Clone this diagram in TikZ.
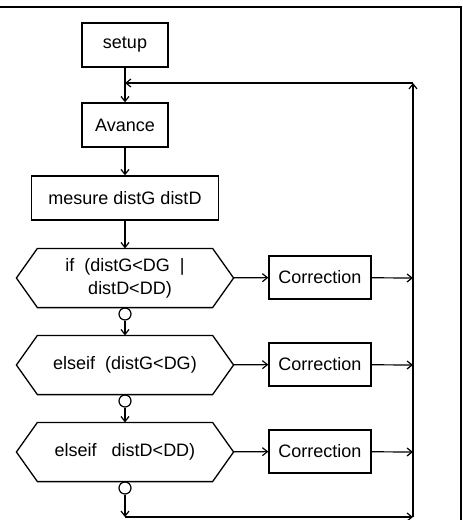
\documentclass[tikz,border=0pt]{standalone}
\usepackage{fontspec}
\setmainfont{Liberation Sans}
\usetikzlibrary{
		calc,
		arrows.meta,
		positioning
	}
\tikzset{
		>={Straight Barb[length=5pt,width=8pt]},
		box/.style={draw, line width=1.3pt, minimum height=44pt, inner sep=0pt, font=\fontsize{18}{23}\selectfont},
		hexbox/.style={minimum width=216pt, minimum height=58pt, inner sep=0pt, align=center, font=\fontsize{18}{23}\selectfont},
		joint/.style={draw, circle, line width=1.2pt, minimum size=12pt, inner sep=0pt}
	}

\begin{document}
\begin{tikzpicture}[x=1pt, y=-1pt, line width=1.2pt]
    \useasboundingbox (0,0) rectangle (463,520);

    % the frame
    \draw (0,7) -- (461,7) -- (461,520);

    % the boxes
    \node[box, minimum width=86pt] (setup) at (125,45) {setup};
    \node[box, minimum width=86pt] (avance) at (125,125) {Avance};
    \node[box, minimum width=187pt] (mesure) at (125,198) {mesure distG distD};

    % the tests (hexagons drawn below)
    \node[hexbox] (if1) at (125,278) {if~~(distG<DG~~|\hspace{15pt}\\\hspace{10pt}distD<DD)};
    \node[hexbox] (if2) at (125,365) {elseif~~(distG<DG)};
    \node[hexbox] (if3) at (125,452) {elseif~~~distD<DD)};

    \node[box, minimum width=102pt, minimum height=43pt] (corr1) at (320,277.5) {Correction};
    \node[box, minimum width=102pt, minimum height=43pt] (corr2) at (320,364.5) {Correction};
    \node[box, minimum width=102pt, minimum height=43pt] (corr3) at (320,451.5) {Correction};

    % the small circles under the tests
    \node[joint] (o1) at (125,314) {};
    \node[joint] (o2) at (125,401) {};
    \node[joint] (o3) at (125,488) {};

    % the corners of the loop
    \coordinate (jtop) at (125,83);
    \coordinate (rtop) at (413,83);
    \coordinate (jbot) at (125,517);
    \coordinate (rbot) at (413,517);
    \coordinate (r1) at (413,278);
    \coordinate (r2) at (413,365);
    \coordinate (r3) at (413,452);

    % draw the hexagons
    \foreach \n in {if1,if2,if3}{
        \draw[line width=1.3pt] ($(\n.north west)+(21,0)$) -- ($(\n.north east)+(-21,0)$) -- (\n.east)
            -- ($(\n.south east)+(-21,0)$) -- ($(\n.south west)+(21,0)$) -- (\n.west) -- cycle;
    }

    % draw the arrows
    \draw[->] (setup) -- (avance);
    \draw[->] (rtop) -- (jtop);
    \draw[->] (avance) -- (mesure);
    \draw[->] (mesure) -- (if1);
    \draw (if1) -- (o1);
    \draw[->] (o1) -- (if2);
    \draw (if2) -- (o2);
    \draw[->] (o2) -- (if3);
    \draw (if3) -- (o3);
    \draw[->] (o3) -- (jbot);
    \draw[->] (jbot) -- (rbot);
    \draw[->] (rbot) -- (rtop);
    \foreach \i in {1,2,3}{
        \draw[->] (if\i) -- (corr\i);
        \draw[->] (corr\i) -- (r\i);
    }

\end{tikzpicture}
\end{document}
